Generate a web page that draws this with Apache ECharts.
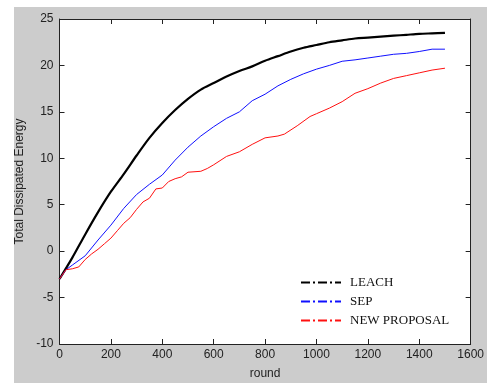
<!DOCTYPE html>
<html><head><meta charset="utf-8">
<script src="https://cdn.jsdelivr.net/npm/echarts@6/dist/echarts.min.js"></script>
<style>
html,body{margin:0;padding:0;background:#fff;}
#bg{position:absolute;left:14px;top:7px;width:473px;height:376px;background:#cccccc;}
#c{position:absolute;left:0;top:0;width:487px;height:385px;}
</style></head>
<body><div id="bg"></div><div id="c"></div>
<script>
const seriesNames = ['LEACH', 'SEP', 'NEW PROPOSAL'];
const leach = [[0,-3],[50,-0.7],[100,1.8],[150,4.2],[200,6.4],[250,8.3],[300,10.3],[350,12.2],[400,13.8],[450,15.2],[500,16.4],[550,17.4],[600,18.1],[650,18.8],[700,19.4],[750,19.9],[800,20.5],[850,21.0],[900,21.5],[950,21.9],[1000,22.2],[1050,22.5],[1100,22.7],[1150,22.9],[1200,23.0],[1250,23.1],[1300,23.2],[1350,23.3],[1400,23.4],[1450,23.45],[1500,23.5]];
const sep = [[0,-3],[25,-2.0],[50,-1.5],[100,-0.5],[150,1.2],[200,2.8],[250,4.6],[300,6.1],[350,7.2],[400,8.2],[450,9.8],[500,11.2],[550,12.4],[600,13.4],[650,14.3],[700,15.0],[750,16.2],[800,16.9],[850,17.8],[900,18.5],[950,19.1],[1000,19.6],[1050,20.0],[1100,20.45],[1150,20.6],[1200,20.8],[1250,21.0],[1300,21.2],[1350,21.3],[1400,21.5],[1450,21.75],[1500,21.75]];
const proposal = [[0,-3],[25,-2.0],[50,-1.9],[75,-1.7],[100,-0.9],[125,-0.3],[150,0.2],[175,0.8],[200,1.4],[225,2.2],[250,3.0],[275,3.6],[300,4.5],[325,5.3],[350,5.7],[375,6.7],[400,6.8],[425,7.5],[450,7.8],[475,8.0],[500,8.5],[550,8.6],[575,8.9],[600,9.3],[650,10.2],[700,10.7],[750,11.5],[800,12.2],[850,12.4],[875,12.6],[925,13.5],[975,14.5],[1000,14.8],[1050,15.4],[1100,16.1],[1150,17.0],[1200,17.5],[1250,18.1],[1300,18.6],[1350,18.9],[1400,19.2],[1450,19.5],[1500,19.7]];
const xMin = 0, xMax = 1600, xStep = 200;
const yMin = -10, yMax = 25, yStep = 5;

const chart = echarts.init(document.getElementById('c'));
const font = 'Liberation Sans, Arial, sans-serif';
const dashIcon = 'path://M0,0h9v2h-9z M12,0h2v2h-2z M17,0h9v2h-9z M29,0h2v2h-2z M34,0h6v2h-6z';
const axisCommon = {
  axisLine:{show:true, onZero:false, lineStyle:{color:'#222', width:1}},
  axisTick:{show:true, inside:true, length:5, lineStyle:{color:'#222'}},
  splitLine:{show:false}
};
chart.setOption({
  animation:false,
  backgroundColor:'transparent',
  grid:{left:59.5, top:19, right:11, bottom:38, show:true, backgroundColor:'#fff', borderWidth:0},
  legend:{
    data:seriesNames, orient:'vertical', left:296, top:271, itemGap:6,
    itemWidth:40, itemHeight:2, icon:dashIcon,
    textStyle:{fontFamily:'Liberation Serif, Times New Roman, serif', fontSize:13, color:'#111', padding:[0,0,0,4]}
  },
  xAxis:[
    Object.assign({type:'value', min:xMin, max:xMax, interval:xStep, position:'bottom',
      name:'round', nameLocation:'middle', nameGap:24,
      nameTextStyle:{fontFamily:font, fontSize:12, color:'#222'},
      axisLabel:{fontFamily:font, fontSize:12, color:'#222', margin:5, formatter:(v)=>String(v)}}, axisCommon),
    Object.assign({type:'value', min:xMin, max:xMax, interval:xStep, position:'top',
      axisLabel:{show:false}}, axisCommon)
  ],
  yAxis:[
    Object.assign({type:'value', min:yMin, max:yMax, interval:yStep, position:'left',
      name:'Total Dissipated Energy', nameLocation:'middle', nameGap:30,
      nameTextStyle:{fontFamily:font, fontSize:12, color:'#222'},
      axisLabel:{fontFamily:font, fontSize:12, color:'#222', margin:6}}, axisCommon),
    Object.assign({type:'value', min:yMin, max:yMax, interval:yStep, position:'right',
      axisLabel:{show:false}}, axisCommon)
  ],
  series:[
    {name:seriesNames[0], type:'line', data:leach, showSymbol:false, smooth:0.3, lineStyle:{color:'#000', width:2.2}, itemStyle:{color:'#000'}},
    {name:seriesNames[1], type:'line', data:sep, showSymbol:false, lineStyle:{color:'#1010ff', width:1}, itemStyle:{color:'#1010ff'}},
    {name:seriesNames[2], type:'line', data:proposal, showSymbol:false, lineStyle:{color:'#ff1010', width:1}, itemStyle:{color:'#ff1010'}}
  ]
});
</script></body></html>
